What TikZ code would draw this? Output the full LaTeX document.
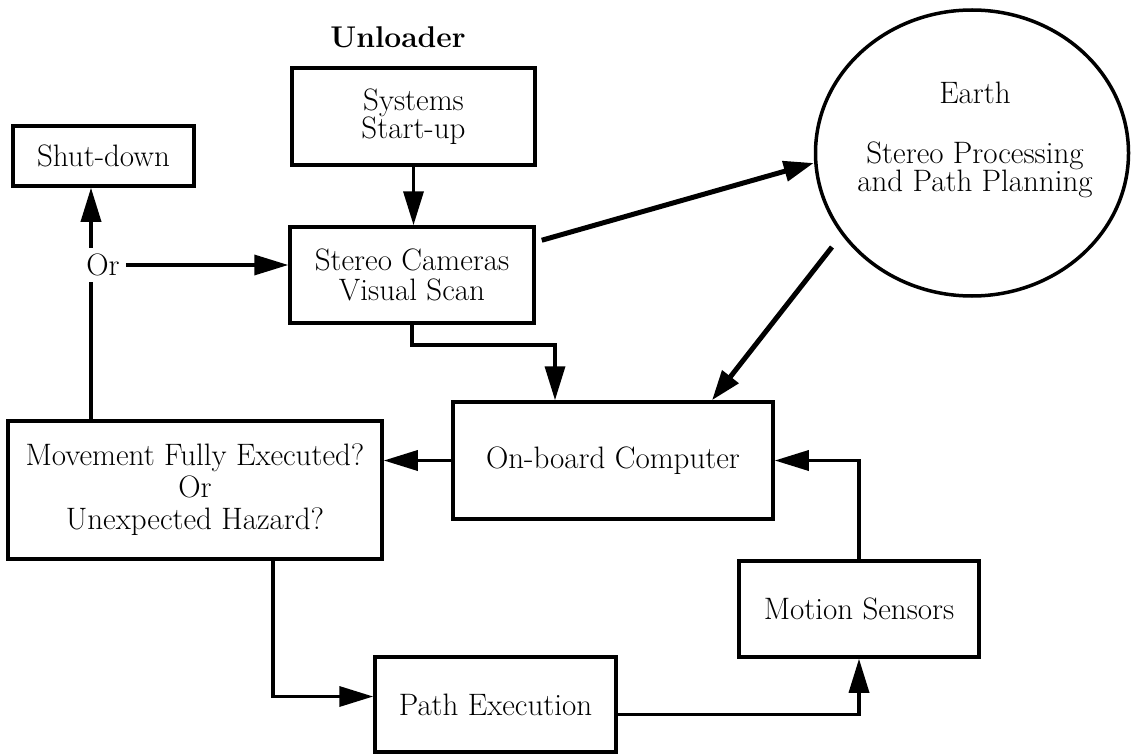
\documentclass[tikz,border=0pt]{standalone}
\usetikzlibrary{arrows.meta,shapes.geometric,calc}
\newcommand\tightls{\lineskiplimit=-50pt\relax}
\begin{document}
\begin{tikzpicture}[x=1pt,y=-1pt,
  box/.style={draw,line width=3.5pt,rectangle,inner sep=0pt,align=center,font=\fontsize{31}{30}\selectfont\tightls},
  txt/.style={inner sep=0pt,align=center,font=\fontsize{31}{28}\selectfont\tightls},
  arr/.style={line width=3.5pt,-{Triangle[length=34pt,width=20pt]}},
  arrthick/.style={line width=5pt,-{Triangle[length=30pt,width=20pt]}},
  link/.style={line width=3.5pt}]
\useasboundingbox (0,0) rectangle (1131,754);
% title
\node[font=\bfseries\fontsize{30}{30}\selectfont,inner sep=0pt] (title) at (398,37) {Unloader};
% boxes
\node[box,minimum width=181pt,minimum height=60pt] (shut) at (103.5,156) {Shut-down};
\node[box,minimum width=243pt,minimum height=97pt,font=\fontsize{31}{28}\selectfont\tightls] (sys) at (413.5,116.5) {Systems\\Start-up};
\node[box,minimum width=244pt,minimum height=96pt] (stereo) at (412,275) {Stereo Cameras\\Visual Scan};
\node[box,minimum width=374pt,minimum height=138pt,font=\fontsize{31}{32}\selectfont\tightls] (mov) at (195,490) {Movement Fully Executed?\\Or\\Unexpected Hazard?};
\node[box,minimum width=320pt,minimum height=117pt] (onb) at (613,460.5) {On-board Computer};
\node[box,minimum width=240pt,minimum height=96pt] (mot) at (859,609) {Motion Sensors};
\node[box,minimum width=241pt,minimum height=95pt] (path) at (495.5,704.5) {Path Execution};
% earth
\node[draw,ellipse,line width=3.5pt,minimum width=313pt,minimum height=286pt,inner sep=0pt] (earth) at (972,153) {};
\node[txt] (earthA) at (975,93) {Earth};
\node[txt] (earthB) at (975,170) {Stereo Processing\\and Path Planning};
% or
\node[txt,inner sep=6pt] (orn) at (103,265) {Or};
\coordinate (ox) at (91,265);
% connectors
\draw[arr] (sys.south) -- (sys.south |- stereo.north);
\draw[arrthick] ([xshift=6pt,yshift=-15pt]stereo.north east) -- ([yshift=-10pt]earth.west);
\draw[arrthick] ($(earth.center)+(-140,94)$) -- ([xshift=99pt]onb.north);
\draw[arr] (stereo.south) -- ++(0,20) -| ([xshift=-58pt]onb.north);
\draw[arr] (onb.west) -- (onb.west -| mov.east);
\draw[arr] (mot.north) |- (onb.east);
\draw[arr] ([yshift=-10pt]path.east) -| (mot.south);
\draw[arr] ([xshift=78pt]mov.south) |- ([yshift=8pt]path.west);
\draw[link] (mov.north -| ox) -- (orn.south -| ox);
\draw[arr] (orn.north -| ox) -- (shut.south -| ox);
\draw[arr] (orn.east) -- (orn.east -| stereo.west);
\end{tikzpicture}
\end{document}
